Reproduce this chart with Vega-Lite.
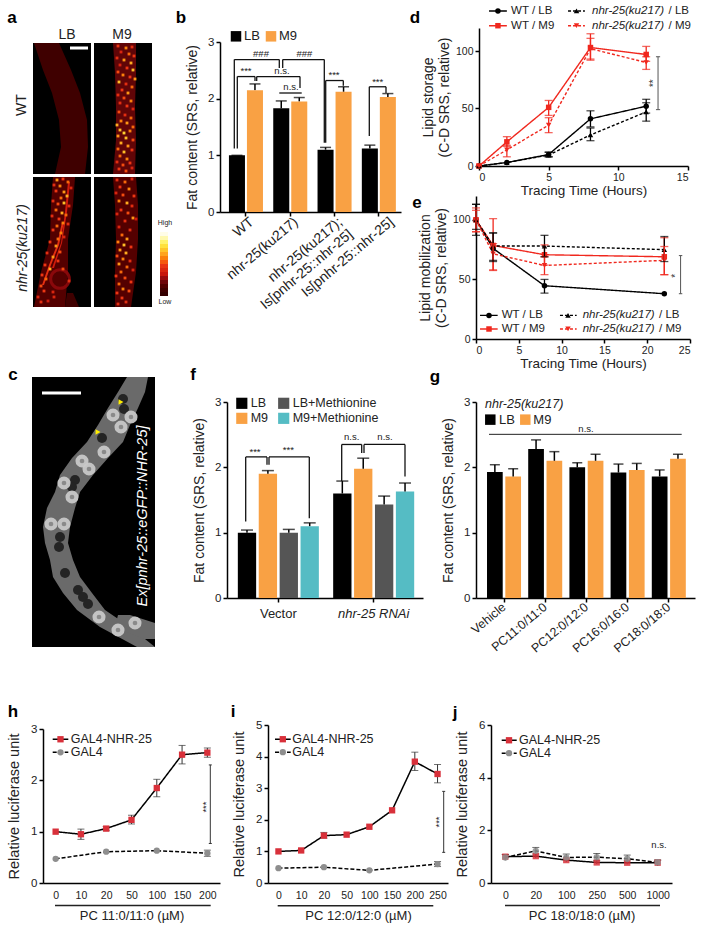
{"$schema":"https://vega.github.io/schema/vega-lite/v6.json","width":704,"height":937,"padding":0,"autosize":{"type":"none"},"background":"white",
"config":{"view":{"stroke":null},"text":{"font":"Liberation Sans","color":"#222"},"axis":{"grid":false,"labelFont":"Liberation Sans","titleFont":"Liberation Sans","titleFontWeight":"normal","domainColor":"#000","domainWidth":1.5,"tickColor":"#000","tickWidth":1.5,"tickSize":4,"labelColor":"#222","titleColor":"#222","labelOverlap":false,"labelBound":false,"labelFontSize":11.5,"titleFontSize":14,"labelPadding":2}},
"resolve":{"scale":{"x":"independent","y":"independent","color":"independent","shape":"independent","strokeDash":"independent","xOffset":"independent"},"axis":{"x":"independent","y":"independent"},"legend":{"color":"independent"}},
"layer":[
{"encoding":{"x":{"field":"x","type":"quantitative","stack":null,"scale":{"domain":[0,119],"range":[33,152]},"axis":null},"y":{"field":"y","type":"quantitative","stack":null,"scale":{"domain":[0,264],"range":[43,307]},"axis":null}},
"layer":[
{"data":{"values":[{"x":0,"x2":58,"y":0,"y2":131},{"x":61,"x2":119,"y":0,"y2":131},{"x":0,"x2":58,"y":134,"y2":264},{"x":61,"x2":119,"y":134,"y2":264}]},"mark":{"type":"rect","fill":"#000"},"encoding":{"x2":{"field":"x2"},"y2":{"field":"y2"}}},
{"data":{"values":[
{"b":"wtlb","h":0.08,"y":0,"x":1,"x2":26},{"b":"wtlb","h":0.08,"y":27,"x":10,"x2":38},{"b":"wtlb","h":0.08,"y":50,"x":19,"x2":47},{"b":"wtlb","h":0.08,"y":77,"x":26,"x2":54},{"b":"wtlb","h":0.08,"y":104,"x":28,"x2":55},{"b":"wtlb","h":0.08,"y":131,"x":22,"x2":52},
{"b":"wtm9","h":0.22,"y":0,"x":80,"x2":103},{"b":"wtm9","h":0.22,"y":30,"x":82,"x2":103},{"b":"wtm9","h":0.22,"y":64,"x":83,"x2":102},{"b":"wtm9","h":0.22,"y":97,"x":83,"x2":103},{"b":"wtm9","h":0.22,"y":131,"x":80,"x2":102},
{"b":"nlb","h":0.18,"y":134,"x":20,"x2":42},{"b":"nlb","h":0.18,"y":162,"x":18,"x2":40},{"b":"nlb","h":0.18,"y":196,"x":17,"x2":35},{"b":"nlb","h":0.18,"y":229,"x":8,"x2":35},{"b":"nlb","h":0.18,"y":264,"x":1,"x2":32},
{"b":"tail","h":0.08,"y":250,"x":34,"x2":40},{"b":"tail","h":0.08,"y":264,"x":32,"x2":46},
{"b":"st1","h":0.55,"y":179,"x":29,"x2":31},{"b":"st1","h":0.55,"y":202,"x":24,"x2":26},{"b":"st1","h":0.55,"y":222,"x":16,"x2":18},{"b":"st1","h":0.55,"y":242,"x":9,"x2":11},
{"b":"st2","h":0.45,"y":139,"x":35,"x2":37},{"b":"st2","h":0.45,"y":169,"x":32,"x2":34},{"b":"st2","h":0.45,"y":200,"x":28,"x2":29},{"b":"st2","h":0.45,"y":225,"x":19,"x2":21},
{"b":"nm9","h":0.18,"y":134,"x":80,"x2":103},{"b":"nm9","h":0.18,"y":162,"x":82,"x2":105},{"b":"nm9","h":0.18,"y":196,"x":83,"x2":105},{"b":"nm9","h":0.18,"y":229,"x":82,"x2":103},{"b":"nm9","h":0.18,"y":264,"x":82,"x2":98}
]},"mark":{"type":"area","orient":"horizontal"},"encoding":{"x2":{"field":"x2"},"detail":{"field":"b","type":"nominal"},"color":{"field":"h","type":"quantitative","scale":{"domain":[0,1.25],"range":["#000000","#5a0505","#c8140c","#f23a14","#ffa51e","#fff04a","#fffde8"]},"legend":null}}},
{"data":{"values":[{"x":127,"x2":135,"y":189,"y2":193,"h":1.25},{"x":127,"x2":135,"y":193,"y2":197,"h":1.17},{"x":127,"x2":135,"y":197,"y2":201,"h":1.08},{"x":127,"x2":135,"y":201,"y2":205,"h":1.0},{"x":127,"x2":135,"y":205,"y2":209,"h":0.92},{"x":127,"x2":135,"y":209,"y2":213,"h":0.83},{"x":127,"x2":135,"y":213,"y2":217,"h":0.75},{"x":127,"x2":135,"y":217,"y2":221,"h":0.67},{"x":127,"x2":135,"y":221,"y2":225,"h":0.58},{"x":127,"x2":135,"y":225,"y2":229,"h":0.5},{"x":127,"x2":135,"y":229,"y2":233,"h":0.42},{"x":127,"x2":135,"y":233,"y2":237,"h":0.33},{"x":127,"x2":135,"y":237,"y2":241,"h":0.25},{"x":127,"x2":135,"y":241,"y2":245,"h":0.17},{"x":127,"x2":135,"y":245,"y2":249,"h":0.08},{"x":127,"x2":135,"y":249,"y2":253,"h":0}]},"mark":{"type":"rect"},"encoding":{"x2":{"field":"x2"},"y2":{"field":"y2"},"color":{"field":"h","type":"quantitative","legend":null}}},
{"data":{"values":[{"x":27,"y":236,"h":0.32}]},"mark":{"type":"point","filled":false,"size":350,"strokeWidth":3,"opacity":0.85},"encoding":{"color":{"field":"h","type":"quantitative","legend":null}}},
{"data":{"values":[{"x":85,"y":3,"h":0.6},{"x":93,"y":5,"h":0.75},{"x":99,"y":4,"h":0.55},{"x":88,"y":9,"h":0.5},{"x":96,"y":11,"h":0.7},{"x":101,"y":13,"h":0.6},{"x":84,"y":15,"h":0.55},{"x":91,"y":17,"h":0.8},{"x":98,"y":20,"h":0.85},{"x":87,"y":22,"h":0.5},{"x":94,"y":25,"h":0.6},{"x":100,"y":27,"h":0.9},{"x":85,"y":29,"h":0.65},{"x":90,"y":32,"h":0.75},{"x":97,"y":34,"h":0.6},{"x":102,"y":36,"h":0.8},{"x":86,"y":39,"h":0.9},{"x":93,"y":41,"h":0.55},{"x":99,"y":44,"h":0.7},{"x":89,"y":47,"h":0.6},{"x":95,"y":50,"h":0.8},{"x":85,"y":52,"h":0.55},{"x":91,"y":55,"h":0.65},{"x":98,"y":58,"h":0.75},{"x":87,"y":60,"h":0.55},{"x":94,"y":63,"h":0.6},{"x":100,"y":66,"h":0.5},{"x":86,"y":69,"h":0.65},{"x":92,"y":72,"h":0.55},{"x":98,"y":75,"h":0.7},{"x":88,"y":78,"h":0.75},{"x":84,"y":82,"h":0.85},{"x":94,"y":80,"h":0.8},{"x":100,"y":84,"h":0.7},{"x":87,"y":87,"h":0.9},{"x":91,"y":90,"h":0.95},{"x":97,"y":88,"h":0.75},{"x":85,"y":93,"h":0.8},{"x":93,"y":95,"h":0.9},{"x":100,"y":97,"h":0.65},{"x":88,"y":100,"h":0.85},{"x":95,"y":103,"h":0.8},{"x":85,"y":106,"h":0.7},{"x":91,"y":109,"h":0.9},{"x":99,"y":107,"h":0.6},{"x":87,"y":113,"h":0.7},{"x":94,"y":116,"h":0.75},{"x":84,"y":119,"h":0.55},{"x":90,"y":122,"h":0.65},{"x":97,"y":120,"h":0.6},{"x":86,"y":126,"h":0.6},{"x":93,"y":128,"h":0.65},{"x":99,"y":125,"h":0.5},
{"x":24,"y":137,"h":0.8},{"x":30,"y":136,"h":0.6},{"x":35,"y":139,"h":0.7},{"x":21,"y":142,"h":0.55},{"x":27,"y":143,"h":0.75},{"x":38,"y":145,"h":0.5},{"x":23,"y":148,"h":0.6},{"x":31,"y":149,"h":0.8},{"x":28,"y":155,"h":0.7},{"x":34,"y":153,"h":0.85},{"x":20,"y":158,"h":0.55},{"x":25,"y":161,"h":0.65},{"x":31,"y":160,"h":0.9},{"x":36,"y":163,"h":0.55},{"x":23,"y":167,"h":0.7},{"x":29,"y":170,"h":0.85},{"x":33,"y":172,"h":0.7},{"x":19,"y":173,"h":0.55},{"x":26,"y":176,"h":0.6},{"x":30,"y":180,"h":0.75},{"x":24,"y":183,"h":0.7},{"x":35,"y":181,"h":0.55},{"x":20,"y":187,"h":0.6},{"x":28,"y":190,"h":0.75},{"x":25,"y":196,"h":0.7},{"x":31,"y":194,"h":0.5},{"x":17,"y":199,"h":0.6},{"x":23,"y":203,"h":0.8},{"x":27,"y":209,"h":0.65},{"x":14,"y":210,"h":0.55},{"x":20,"y":214,"h":0.8},{"x":25,"y":218,"h":0.6},{"x":12,"y":222,"h":0.6},{"x":17,"y":226,"h":0.85},{"x":9,"y":232,"h":0.6},{"x":13,"y":236,"h":0.7},{"x":8,"y":243,"h":0.65},{"x":11,"y":248,"h":0.6},{"x":5,"y":254,"h":0.5},{"x":8,"y":259,"h":0.55},{"x":20,"y":249,"h":0.5},{"x":30,"y":226,"h":0.65},{"x":36,"y":238,"h":0.55},{"x":21,"y":254,"h":0.5},{"x":15,"y":258,"h":0.45},
{"x":84,"y":137,"h":0.55},{"x":92,"y":139,"h":0.7},{"x":99,"y":136,"h":0.5},{"x":87,"y":144,"h":0.6},{"x":96,"y":146,"h":0.75},{"x":83,"y":150,"h":0.5},{"x":90,"y":152,"h":0.65},{"x":101,"y":153,"h":0.6},{"x":86,"y":158,"h":0.75},{"x":94,"y":160,"h":0.85},{"x":99,"y":163,"h":0.55},{"x":88,"y":167,"h":0.6},{"x":84,"y":171,"h":0.5},{"x":95,"y":170,"h":0.65},{"x":100,"y":175,"h":0.8},{"x":92,"y":178,"h":0.55},{"x":103,"y":176,"h":0.45},{"x":86,"y":184,"h":0.5},{"x":97,"y":187,"h":0.55},{"x":89,"y":192,"h":0.7},{"x":94,"y":196,"h":0.8},{"x":85,"y":199,"h":0.75},{"x":91,"y":202,"h":0.9},{"x":98,"y":204,"h":0.6},{"x":87,"y":207,"h":0.8},{"x":93,"y":210,"h":0.85},{"x":84,"y":213,"h":0.65},{"x":90,"y":216,"h":0.75},{"x":97,"y":218,"h":0.55},{"x":86,"y":221,"h":0.8},{"x":94,"y":224,"h":0.7},{"x":100,"y":227,"h":0.5},{"x":88,"y":229,"h":0.7},{"x":83,"y":233,"h":0.6},{"x":92,"y":235,"h":0.65},{"x":98,"y":239,"h":0.6},{"x":86,"y":241,"h":0.7},{"x":90,"y":246,"h":0.75},{"x":96,"y":248,"h":0.65},{"x":84,"y":250,"h":0.6},{"x":89,"y":255,"h":0.6},{"x":93,"y":259,"h":0.55},{"x":85,"y":261,"h":0.55}]},
"mark":{"type":"point","shape":"square","filled":true,"size":8,"opacity":1},"encoding":{"color":{"field":"h","type":"quantitative","legend":null}}},
{"data":{"values":[{"x":37,"x2":55,"y":5,"y2":5}]},"mark":{"type":"rule","stroke":"#fff","strokeWidth":3},"encoding":{"x2":{"field":"x2"},"y2":{"field":"y2"}}},
{"data":{"values":[{"x":34,"y":-8,"t":"LB"},{"x":89,"y":-8,"t":"M9"}]},"mark":{"type":"text","fontSize":14},"encoding":{"text":{"field":"t"}}},
{"data":{"values":[{"x":-11,"y":62,"t":"WT"}]},"mark":{"type":"text","fontSize":14,"angle":270},"encoding":{"text":{"field":"t"}}},
{"data":{"values":[{"x":-10,"y":205,"t":"nhr-25(ku217)"}]},"mark":{"type":"text","fontSize":14,"angle":270,"fontStyle":"italic"},"encoding":{"text":{"field":"t"}}},
{"data":{"values":[{"x":132,"y":180,"t":"High"},{"x":132,"y":259,"t":"Low"}]},"mark":{"type":"text","fontSize":7},"encoding":{"text":{"field":"t"}}},
{"data":{"values":[{"x":-21,"y":-25,"t":"a"}]},"mark":{"type":"text","fontSize":17,"fontWeight":"bold","color":"#000"},"encoding":{"text":{"field":"t"}}}
]},
{"data":{"values":[{"g":"WT","c":"LB","v":1.0,"hi":1.0},{"g":"WT","c":"M9","v":2.15,"hi":2.26},{"g":"nhr-25(ku217)","c":"LB","v":1.83,"hi":1.96},{"g":"nhr-25(ku217)","c":"M9","v":1.95,"hi":2.02},{"g":"nhr-25(ku217);|Is[pnhr-25::nhr-25]","c":"LB","v":1.1,"hi":1.14},{"g":"nhr-25(ku217);|Is[pnhr-25::nhr-25]","c":"M9","v":2.12,"hi":2.21},{"g":"Is[pnhr-25::nhr-25]","c":"LB","v":1.12,"hi":1.18},{"g":"Is[pnhr-25::nhr-25]","c":"M9","v":2.03,"hi":2.09}]},
"encoding":{"x":{"field":"g","type":"nominal","scale":{"type":"band","domain":["WT","nhr-25(ku217)","nhr-25(ku217);|Is[pnhr-25::nhr-25]","Is[pnhr-25::nhr-25]"],"range":[220,401],"paddingInner":0,"paddingOuter":0.043,"align":1},"axis":{"orient":"bottom","offset":-725,"title":null,"labelAngle":-40,"labelAlign":"right","labelBaseline":"middle","labelFontSize":14,"labelPadding":4,"labelOffset":{"condition":{"test":"datum.value==='Is[pnhr-25::nhr-25]'","value":13},"value":6},"labelExpr":"split(replace(datum.label,';',';\u00a0\u00a0\u00a0'),'|')"}},
"xOffset":{"field":"c","type":"nominal","scale":{"domain":["LB","M9"],"paddingInner":0.11,"paddingOuter":0.285}},
"y":{"field":"v","type":"quantitative","stack":null,"title":"Fat content (SRS, relative)","scale":{"domain":[0,3],"range":[212,42]},"axis":{"orient":"left","offset":-220,"values":[0,1,2,3],"format":"d","titlePadding":8}}},
"layer":[{"mark":{"type":"rule","stroke":"#000","strokeWidth":1.5},"encoding":{"y2":{"field":"hi"}}},{"mark":{"type":"tick","orient":"horizontal","size":11,"thickness":1.5,"color":"#000"},"encoding":{"y":{"field":"hi","type":"quantitative","title":"Fat content (SRS, relative)","axis":{"orient":"left","offset":-220,"values":[0,1,2,3],"format":"d","titlePadding":8}}}},{"mark":"bar","encoding":{"color":{"field":"c","type":"nominal","scale":{"domain":["LB","M9"],"range":["#000000","#F9A144"]},"legend":null}}}]},
{"encoding":{"x":{"field":"x","type":"quantitative","scale":{"domain":[0,181],"range":[220,401]},"axis":null},"y":{"field":"y","type":"quantitative","scale":{"domain":[0,3],"range":[212,42]},"axis":null}},
"layer":[
{"data":{"values":[{"x":14.3,"x2":14.3,"y":1.12,"y2":2.69},{"x":14.3,"x2":59.3,"y":2.69,"y2":2.69},{"x":59.3,"x2":59.3,"y":2.69,"y2":2.54},{"x":62.7,"x2":62.7,"y":2.54,"y2":2.69},{"x":62.7,"x2":104.3,"y":2.69,"y2":2.69},{"x":104.3,"x2":104.3,"y":2.69,"y2":1.22},{"x":17.3,"x2":17.3,"y":1.12,"y2":2.39},{"x":17.3,"x2":35,"y":2.39,"y2":2.39},{"x":35,"x2":35,"y":2.39,"y2":2.31},{"x":36.7,"x2":36.7,"y":2.31,"y2":2.39},{"x":36.7,"x2":80,"y":2.39,"y2":2.39},{"x":80,"x2":80,"y":2.39,"y2":2.19},{"x":59.3,"x2":81.7,"y":2.1,"y2":2.1},{"x":105.7,"x2":105.7,"y":1.22,"y2":2.32},{"x":105.7,"x2":123.3,"y":2.32,"y2":2.32},{"x":123.3,"x2":123.3,"y":2.32,"y2":2.23},{"x":149.3,"x2":149.3,"y":1.34,"y2":2.21},{"x":149.3,"x2":166,"y":2.21,"y2":2.21},{"x":166,"x2":166,"y":2.21,"y2":2.1}]},"mark":{"type":"rule","stroke":"#111","strokeWidth":1.3},"encoding":{"x2":{"field":"x2"},"y2":{"field":"y2"}}},
{"data":{"values":[{"x":41,"y":2.78,"t":"###"},{"x":84.3,"y":2.78,"t":"###"},{"x":26,"y":2.49,"t":"***"},{"x":62,"y":2.49,"t":"n.s."},{"x":71,"y":2.2,"t":"n.s."},{"x":114,"y":2.41,"t":"***"},{"x":157.7,"y":2.29,"t":"***"}]},"mark":{"type":"text","fontSize":9.5,"align":"center"},"encoding":{"text":{"field":"t"}}},
{"data":{"values":[{"x":16,"y":3.1,"c":"LB"},{"x":51,"y":3.1,"c":"M9"}]},"mark":{"type":"point","shape":"square","filled":true,"size":110,"opacity":1},"encoding":{"color":{"field":"c","type":"nominal","scale":{"domain":["LB","M9"],"range":["#000000","#F9A144"]},"legend":null}}},
{"data":{"values":[{"x":24,"y":3.1,"t":"LB"},{"x":59,"y":3.1,"t":"M9"}]},"mark":{"type":"text","fontSize":13,"align":"left"},"encoding":{"text":{"field":"t"}}},
{"data":{"values":[{"x":-39,"y":3.42,"t":"b"}]},"mark":{"type":"text","fontSize":17,"fontWeight":"bold","color":"#000"},"encoding":{"text":{"field":"t"}}}
]},
{"data":{"values":[{"s":"WT / LB","t":0,"v":0},{"s":"WT / LB","t":2,"v":3},{"s":"WT / LB","t":5,"v":10,"lo":8,"hi":12},{"s":"WT / LB","t":8,"v":41,"lo":34,"hi":48},{"s":"WT / LB","t":12,"v":52,"lo":46,"hi":58},{"s":"WT / M9","t":0,"v":0},{"s":"WT / M9","t":2,"v":21,"lo":17,"hi":25.5},{"s":"WT / M9","t":5,"v":51,"lo":44,"hi":57},{"s":"WT / M9","t":8,"v":103,"lo":93,"hi":115},{"s":"WT / M9","t":12,"v":97,"lo":91,"hi":104},{"s":"nhr LB","t":0,"v":0},{"s":"nhr LB","t":2,"v":3},{"s":"nhr LB","t":5,"v":9.5,"lo":8,"hi":12},{"s":"nhr LB","t":8,"v":27,"lo":22,"hi":33},{"s":"nhr LB","t":12,"v":47,"lo":39,"hi":55},{"s":"nhr M9","t":0,"v":0},{"s":"nhr M9","t":2,"v":14,"lo":8,"hi":18},{"s":"nhr M9","t":5,"v":35.6,"lo":29,"hi":42},{"s":"nhr M9","t":8,"v":102,"lo":92,"hi":111},{"s":"nhr M9","t":12,"v":90,"lo":84,"hi":95}]},
"encoding":{"x":{"field":"t","type":"quantitative","scale":{"domain":[0,15],"range":[479,688]},"axis":{"orient":"bottom","offset":-771,"values":[0,5,10,15],"title":"Tracing Time (Hours)","labelFontSize":10.5,"titlePadding":1,"titleFontSize":13.5}},"y":{"field":"v","type":"quantitative","scale":{"domain":[0,120],"range":[166,28]},"axis":{"orient":"left","offset":-479,"values":[0,50,100],"title":["Lipid storage","(C-D SRS, relative)"],"labelFontSize":10.5,"titlePadding":4}},"color":{"field":"s","type":"nominal","scale":{"domain":["WT / LB","WT / M9","nhr LB","nhr M9"],"range":["#000000","#F0281E","#000000","#F0281E"]},"legend":null}},
"layer":[{"mark":{"type":"line","strokeWidth":1.4},"encoding":{"strokeDash":{"field":"s","type":"nominal","scale":{"domain":["WT / LB","WT / M9","nhr LB","nhr M9"],"range":[[1,0],[1,0],[3,2],[3,2]]},"legend":null}}},
{"mark":{"type":"point","filled":true,"size":30,"opacity":1},"encoding":{"shape":{"field":"s","type":"nominal","scale":{"domain":["WT / LB","WT / M9","nhr LB","nhr M9"],"range":["circle","square","triangle-up","triangle-down"]},"legend":null}}},
{"transform":[{"filter":"isValid(datum.hi)"}],"mark":{"type":"rule","strokeWidth":1.3},"encoding":{"y":{"field":"lo","type":"quantitative"},"y2":{"field":"hi"}}},{"transform":[{"filter":"isValid(datum.hi)"}],"mark":{"type":"tick","orient":"horizontal","size":8,"thickness":1.3},"encoding":{"y":{"field":"hi","type":"quantitative"}}},{"transform":[{"filter":"isValid(datum.hi)"}],"mark":{"type":"tick","orient":"horizontal","size":8,"thickness":1.3},"encoding":{"y":{"field":"lo","type":"quantitative"}}}]},
{"encoding":{"x":{"field":"x","type":"quantitative","scale":{"domain":[0,15],"range":[479,688]},"axis":null},"y":{"field":"y","type":"quantitative","scale":{"domain":[0,120],"range":[166,28]},"axis":null},"color":{"field":"s","type":"nominal","scale":{"domain":["WT / LB","WT / M9","nhr LB","nhr M9"],"range":["#000000","#F0281E","#000000","#F0281E"]},"legend":null}},
"layer":[
{"data":{"values":[{"s":"WT / LB","x":0.72,"x2":2,"y":134.8},{"s":"WT / M9","x":0.72,"x2":2,"y":122},{"s":"nhr LB","x":6.39,"x2":7.6,"y":134.8},{"s":"nhr M9","x":6.39,"x2":7.6,"y":122}]},"mark":{"type":"rule","strokeWidth":1.4},"encoding":{"x2":{"field":"x2"},"strokeDash":{"field":"s","type":"nominal","scale":{"domain":["WT / LB","WT / M9","nhr LB","nhr M9"],"range":[[1,0],[1,0],[3,2],[3,2]]},"legend":null}}},
{"data":{"values":[{"s":"WT / LB","x":1.36,"y":134.8},{"s":"WT / M9","x":1.36,"y":122},{"s":"nhr LB","x":7,"y":134.8},{"s":"nhr M9","x":7,"y":122}]},"mark":{"type":"point","filled":true,"size":30,"opacity":1},"encoding":{"shape":{"field":"s","type":"nominal","scale":{"domain":["WT / LB","WT / M9","nhr LB","nhr M9"],"range":["circle","square","triangle-up","triangle-down"]},"legend":null}}},
{"data":{"values":[{"x":2.3,"y":134.8,"t":"WT / LB"},{"x":2.3,"y":122,"t":"WT / M9"},{"x":13.6,"y":134.8,"t":"/ LB"},{"x":13.6,"y":122,"t":"/ M9"}]},"mark":{"type":"text","fontSize":11.5,"align":"left"},"encoding":{"color":{"value":"#222"},"text":{"field":"t"}}},
{"data":{"values":[{"x":8.11,"y":134.8,"t":"nhr-25(ku217)"},{"x":8.11,"y":122,"t":"nhr-25(ku217)"}]},"mark":{"type":"text","fontSize":11.5,"align":"left","fontStyle":"italic"},"encoding":{"color":{"value":"#222"},"text":{"field":"t"}}},
{"data":{"values":[{"x":12.85,"x2":12.85,"y":49,"y2":95},{"x":12.7,"x2":13,"y":95,"y2":95},{"x":12.7,"x2":13,"y":49,"y2":49}]},"mark":{"type":"rule","strokeWidth":1},"encoding":{"color":{"value":"#555"},"x2":{"field":"x2"},"y2":{"field":"y2"}}},
{"data":{"values":[{"x":12.55,"y":72,"t":"**"}]},"mark":{"type":"text","fontSize":10,"angle":270},"encoding":{"color":{"value":"#333"},"text":{"field":"t"}}},
{"data":{"values":[{"x":-4.6,"y":128.7,"t":"d"}]},"mark":{"type":"text","fontSize":17,"fontWeight":"bold"},"encoding":{"color":{"value":"#000"},"text":{"field":"t"}}}
]},
{"data":{"values":[{"s":"WT / LB","t":0,"v":100,"lo":92,"hi":113},{"s":"WT / LB","t":2,"v":76,"lo":66,"hi":89},{"s":"WT / LB","t":8,"v":44.7,"lo":38.5,"hi":50},{"s":"WT / LB","t":22,"v":38},{"s":"WT / M9","t":0,"v":100,"lo":90,"hi":110},{"s":"WT / M9","t":2,"v":78.5,"lo":58,"hi":101},{"s":"WT / M9","t":8,"v":70.7,"lo":62,"hi":79},{"s":"WT / M9","t":22,"v":69,"lo":54,"hi":85},{"s":"nhr LB","t":0,"v":100,"lo":87,"hi":113},{"s":"nhr LB","t":2,"v":78,"lo":65,"hi":89},{"s":"nhr LB","t":8,"v":78,"lo":69,"hi":87},{"s":"nhr LB","t":22,"v":75,"lo":65,"hi":86},{"s":"nhr M9","t":0,"v":100,"lo":90,"hi":108},{"s":"nhr M9","t":2,"v":71.5,"lo":57.5,"hi":80},{"s":"nhr M9","t":8,"v":61.7,"lo":54,"hi":69},{"s":"nhr M9","t":22,"v":66,"lo":54,"hi":77.6}]},
"encoding":{"x":{"field":"t","type":"quantitative","scale":{"domain":[0,25],"range":[476,690]},"axis":{"orient":"bottom","offset":-598,"values":[0,5,10,15,20,25],"title":"Tracing Time (Hours)","labelFontSize":10.5,"titlePadding":1,"titleFontSize":13.5}},"y":{"field":"v","type":"quantitative","scale":{"domain":[0,120],"range":[339,196]},"axis":{"orient":"left","offset":-476,"values":[0,50,100],"title":["Lipid mobilization","(C-D SRS, relative)"],"labelFontSize":10.5,"titlePadding":4}},"color":{"field":"s","type":"nominal","scale":{"domain":["WT / LB","WT / M9","nhr LB","nhr M9"],"range":["#000000","#F0281E","#000000","#F0281E"]},"legend":null}},
"layer":[{"mark":{"type":"line","strokeWidth":1.4},"encoding":{"strokeDash":{"field":"s","type":"nominal","scale":{"domain":["WT / LB","WT / M9","nhr LB","nhr M9"],"range":[[1,0],[1,0],[3,2],[3,2]]},"legend":null}}},
{"mark":{"type":"point","filled":true,"size":30,"opacity":1},"encoding":{"shape":{"field":"s","type":"nominal","scale":{"domain":["WT / LB","WT / M9","nhr LB","nhr M9"],"range":["circle","square","triangle-up","triangle-down"]},"legend":null}}},
{"transform":[{"filter":"isValid(datum.hi)"}],"mark":{"type":"rule","strokeWidth":1.3},"encoding":{"y":{"field":"lo","type":"quantitative"},"y2":{"field":"hi"}}},{"transform":[{"filter":"isValid(datum.hi)"}],"mark":{"type":"tick","orient":"horizontal","size":8,"thickness":1.3},"encoding":{"y":{"field":"hi","type":"quantitative"}}},{"transform":[{"filter":"isValid(datum.hi)"}],"mark":{"type":"tick","orient":"horizontal","size":8,"thickness":1.3},"encoding":{"y":{"field":"lo","type":"quantitative"}}}]},
{"encoding":{"x":{"field":"x","type":"quantitative","scale":{"domain":[0,25],"range":[476,690]},"axis":null},"y":{"field":"y","type":"quantitative","scale":{"domain":[0,120],"range":[339,196]},"axis":null},"color":{"field":"s","type":"nominal","scale":{"domain":["WT / LB","WT / M9","nhr LB","nhr M9"],"range":["#000000","#F0281E","#000000","#F0281E"]},"legend":null}},
"layer":[
{"data":{"values":[{"s":"WT / LB","x":0.47,"x2":2.53,"y":19.8},{"s":"WT / M9","x":0.47,"x2":2.53,"y":8.4},{"s":"nhr LB","x":9.81,"x2":11.76,"y":19.8},{"s":"nhr M9","x":9.81,"x2":11.76,"y":8.4}]},"mark":{"type":"rule","strokeWidth":1.4},"encoding":{"x2":{"field":"x2"},"strokeDash":{"field":"s","type":"nominal","scale":{"domain":["WT / LB","WT / M9","nhr LB","nhr M9"],"range":[[1,0],[1,0],[3,2],[3,2]]},"legend":null}}},
{"data":{"values":[{"s":"WT / LB","x":1.52,"y":19.8},{"s":"WT / M9","x":1.52,"y":8.4},{"s":"nhr LB","x":10.75,"y":19.8},{"s":"nhr M9","x":10.75,"y":8.4}]},"mark":{"type":"point","filled":true,"size":30,"opacity":1},"encoding":{"shape":{"field":"s","type":"nominal","scale":{"domain":["WT / LB","WT / M9","nhr LB","nhr M9"],"range":["circle","square","triangle-up","triangle-down"]},"legend":null}}},
{"data":{"values":[{"x":3,"y":19.8,"t":"WT / LB"},{"x":3,"y":8.4,"t":"WT / M9"},{"x":21.38,"y":19.8,"t":"/ LB"},{"x":21.38,"y":8.4,"t":"/ M9"}]},"mark":{"type":"text","fontSize":11.5,"align":"left"},"encoding":{"color":{"value":"#222"},"text":{"field":"t"}}},
{"data":{"values":[{"x":12.46,"y":19.8,"t":"nhr-25(ku217)"},{"x":12.46,"y":8.4,"t":"nhr-25(ku217)"}]},"mark":{"type":"text","fontSize":11.5,"align":"left","fontStyle":"italic"},"encoding":{"color":{"value":"#222"},"text":{"field":"t"}}},
{"data":{"values":[{"x":23.9,"x2":23.9,"y":38,"y2":70},{"x":23.7,"x2":24.1,"y":70,"y2":70},{"x":23.7,"x2":24.1,"y":38,"y2":38}]},"mark":{"type":"rule","strokeWidth":1},"encoding":{"color":{"value":"#555"},"x2":{"field":"x2"},"y2":{"field":"y2"}}},
{"data":{"values":[{"x":23.4,"y":53,"t":"*"}]},"mark":{"type":"text","fontSize":10,"angle":270},"encoding":{"color":{"value":"#333"},"text":{"field":"t"}}},
{"data":{"values":[{"x":-6.9,"y":114,"t":"e"}]},"mark":{"type":"text","fontSize":17,"fontWeight":"bold"},"encoding":{"color":{"value":"#000"},"text":{"field":"t"}}}
]},
{"encoding":{"x":{"field":"x","type":"quantitative","stack":null,"scale":{"domain":[0,123],"range":[32,155]},"axis":null},"y":{"field":"y","type":"quantitative","stack":null,"scale":{"domain":[0,270],"range":[377,647]},"axis":null}},
"layer":[
{"data":{"values":[{"x":0,"x2":123,"y":0,"y2":270}]},"mark":{"type":"rect","fill":"#000"},"encoding":{"x2":{"field":"x2"},"y2":{"field":"y2"}}},
{"data":{"values":[{"b":"w","y":0,"x":95,"x2":116},{"b":"w","y":15,"x":86,"x2":113},{"b":"w","y":31,"x":76,"x2":106},{"b":"w","y":48,"x":66,"x2":98},{"b":"w","y":65,"x":55,"x2":91},{"b":"w","y":81,"x":40,"x2":76},{"b":"w","y":98,"x":28,"x2":61},{"b":"w","y":115,"x":23,"x2":48},{"b":"w","y":131,"x":15,"x2":43},{"b":"w","y":150,"x":11,"x2":38},{"b":"w","y":166,"x":13,"x2":36},{"b":"w","y":183,"x":18,"x2":41},{"b":"w","y":200,"x":21,"x2":48},{"b":"w","y":216,"x":31,"x2":60},{"b":"w","y":233,"x":45,"x2":73},{"b":"w","y":250,"x":68,"x2":98},{"b":"w","y":270,"x":105,"x2":123},{"b":"t","y":238,"x":86,"x2":98},{"b":"t","y":246,"x":84,"x2":123},{"b":"t","y":254,"x":92,"x2":123},{"b":"t","y":262,"x":112,"x2":123}]},"mark":{"type":"area","orient":"horizontal","color":"#6a6a6a"},"encoding":{"x2":{"field":"x2"},"detail":{"field":"b","type":"nominal"}}},
{"data":{"values":[{"x":91,"y":22},{"x":92,"y":32},{"x":70,"y":61},{"x":43,"y":103},{"x":40,"y":110},{"x":28,"y":160},{"x":27,"y":170},{"x":33,"y":196},{"x":46,"y":213},{"x":51,"y":220},{"x":56,"y":227}]},"mark":{"type":"point","shape":"circle","filled":true,"size":100,"color":"#242424","opacity":1}},
{"data":{"values":[{"x":81,"y":38},{"x":89,"y":50},{"x":99,"y":40},{"x":72,"y":75},{"x":50,"y":84},{"x":57,"y":92},{"x":32,"y":106},{"x":40,"y":120},{"x":19,"y":147},{"x":32,"y":147},{"x":67,"y":240},{"x":103,"y":246},{"x":86,"y":253}]},"mark":{"type":"point","shape":"circle","filled":true,"size":170,"color":"#c8c8c8","opacity":0.95}},
{"data":{"values":[{"x":81,"y":38},{"x":89,"y":50},{"x":99,"y":40},{"x":72,"y":75},{"x":50,"y":84},{"x":57,"y":92},{"x":32,"y":106},{"x":40,"y":120},{"x":19,"y":147},{"x":32,"y":147},{"x":67,"y":240},{"x":103,"y":246},{"x":86,"y":253}]},"mark":{"type":"point","shape":"circle","filled":true,"size":22,"color":"#8a8a8a","opacity":1}},
{"data":{"values":[{"x":89,"y":25},{"x":66,"y":55}]},"mark":{"type":"point","shape":"triangle-right","filled":true,"size":32,"color":"#ffee00","opacity":1}},
{"data":{"values":[{"x":10,"x2":49,"y":16,"y2":16}]},"mark":{"type":"rule","stroke":"#fff","strokeWidth":3},"encoding":{"x2":{"field":"x2"},"y2":{"field":"y2"}}},
{"data":{"values":[{"x":111,"y":139,"t":"Ex[pnhr-25::eGFP::NHR-25]"}]},"mark":{"type":"text","fontSize":14.5,"angle":270,"fontStyle":"italic","color":"#fff"},"encoding":{"text":{"field":"t"}}},
{"data":{"values":[{"x":-19,"y":-2,"t":"c"}]},"mark":{"type":"text","fontSize":17,"fontWeight":"bold","color":"#000"},"encoding":{"text":{"field":"t"}}}
]},
{"data":{"values":[{"g":"Vector","c":"LB","v":1.0,"hi":1.04},{"g":"Vector","c":"M9","v":1.9,"hi":1.95},{"g":"Vector","c":"LB+Methionine","v":1.0,"hi":1.05},{"g":"Vector","c":"M9+Methionine","v":1.1,"hi":1.15},{"g":"nhr-25 RNAi","c":"LB","v":1.6,"hi":1.79},{"g":"nhr-25 RNAi","c":"M9","v":1.98,"hi":2.14},{"g":"nhr-25 RNAi","c":"LB+Methionine","v":1.43,"hi":1.56},{"g":"nhr-25 RNAi","c":"M9+Methionine","v":1.63,"hi":1.76}]},
"encoding":{"x":{"field":"g","type":"nominal","scale":{"type":"band","domain":["Vector","nhr-25 RNAi"],"range":[227,423],"paddingInner":0,"paddingOuter":0.028,"align":0.69},"axis":{"orient":"bottom","offset":-339,"title":null,"labelAngle":0,"labelFontSize":13,"labelPadding":5,"labelFontStyle":{"condition":{"test":"datum.value==='Vector'","value":"normal"},"value":"italic"}}},
"xOffset":{"field":"c","type":"nominal","scale":{"domain":["LB","M9","LB+Methionine","M9+Methionine"],"paddingInner":0.124,"paddingOuter":0.342}},
"y":{"field":"v","type":"quantitative","stack":null,"scale":{"domain":[0,3],"range":[598,402]},"axis":{"orient":"left","offset":-227,"values":[0,1,2,3],"format":"d","title":"Fat content (SRS, relative)","titlePadding":8}}},
"layer":[{"mark":"bar","encoding":{"color":{"field":"c","type":"nominal","scale":{"domain":["LB","M9","LB+Methionine","M9+Methionine"],"range":["#000000","#F9A144","#555555","#55BCC4"]},"legend":null}}},{"mark":{"type":"rule","stroke":"#000","strokeWidth":1.5},"encoding":{"y2":{"field":"hi"}}},{"mark":{"type":"tick","orient":"horizontal","size":12,"thickness":1.5,"color":"#000"},"encoding":{"y":{"field":"hi","type":"quantitative"}}}]},
{"encoding":{"x":{"field":"x","type":"quantitative","scale":{"domain":[0,196],"range":[227,423]},"axis":null},"y":{"field":"y","type":"quantitative","scale":{"domain":[0,3],"range":[598,402]},"axis":null}},
"layer":[
{"data":{"values":[{"x":18.7,"x2":18.7,"y":1.17,"y2":2.16},{"x":18.7,"x2":40,"y":2.16,"y2":2.16},{"x":40,"x2":40,"y":2.16,"y2":2.04},{"x":42,"x2":42,"y":2.04,"y2":2.16},{"x":42,"x2":82.3,"y":2.16,"y2":2.16},{"x":82.3,"x2":82.3,"y":2.16,"y2":1.22},{"x":114.7,"x2":114.7,"y":1.79,"y2":2.35},{"x":114.7,"x2":134.7,"y":2.35,"y2":2.35},{"x":134.7,"x2":134.7,"y":2.35,"y2":2.22},{"x":137,"x2":137,"y":2.22,"y2":2.35},{"x":137,"x2":178,"y":2.35,"y2":2.35},{"x":178,"x2":178,"y":2.35,"y2":1.86}]},"mark":{"type":"rule","stroke":"#111","strokeWidth":1.3},"encoding":{"x2":{"field":"x2"},"y2":{"field":"y2"}}},
{"data":{"values":[{"x":28,"y":2.24,"t":"***"},{"x":61.3,"y":2.26,"t":"***"},{"x":124.7,"y":2.46,"t":"n.s."},{"x":158,"y":2.46,"t":"n.s."}]},"mark":{"type":"text","fontSize":9.5,"align":"center"},"encoding":{"text":{"field":"t"}}},
{"data":{"values":[{"x":14.8,"y":2.98,"c":"LB"},{"x":14.8,"y":2.75,"c":"M9"},{"x":56.7,"y":2.98,"c":"LB+Methionine"},{"x":56.7,"y":2.75,"c":"M9+Methionine"}]},"mark":{"type":"point","shape":"square","filled":true,"size":125,"opacity":1},"encoding":{"color":{"field":"c","type":"nominal","scale":{"domain":["LB","M9","LB+Methionine","M9+Methionine"],"range":["#000000","#F9A144","#555555","#55BCC4"]},"legend":null}}},
{"data":{"values":[{"x":23.7,"y":2.98,"t":"LB"},{"x":23.7,"y":2.75,"t":"M9"},{"x":65.7,"y":2.98,"t":"LB+Methionine"},{"x":65.7,"y":2.75,"t":"M9+Methionine"}]},"mark":{"type":"text","fontSize":12.5,"align":"left"},"encoding":{"text":{"field":"t"}}},
{"data":{"values":[{"x":-34,"y":3.41,"t":"f"}]},"mark":{"type":"text","fontSize":17,"fontWeight":"bold","color":"#000"},"encoding":{"text":{"field":"t"}}}
]},
{"data":{"values":[{"g":"Vehicle","c":"LB","v":1.93,"hi":2.04},{"g":"Vehicle","c":"M9","v":1.86,"hi":1.98},{"g":"PC11:0/11:0","c":"LB","v":2.28,"hi":2.42},{"g":"PC11:0/11:0","c":"M9","v":2.1,"hi":2.24},{"g":"PC12:0/12:0","c":"LB","v":2.0,"hi":2.07},{"g":"PC12:0/12:0","c":"M9","v":2.1,"hi":2.2},{"g":"PC16:0/16:0","c":"LB","v":1.92,"hi":2.05},{"g":"PC16:0/16:0","c":"M9","v":1.96,"hi":2.06},{"g":"PC18:0/18:0","c":"LB","v":1.86,"hi":1.96},{"g":"PC18:0/18:0","c":"M9","v":2.13,"hi":2.2}]},
"encoding":{"x":{"field":"g","type":"nominal","scale":{"type":"band","domain":["Vehicle","PC11:0/11:0","PC12:0/12:0","PC16:0/16:0","PC18:0/18:0"],"range":[476,695],"paddingInner":0,"paddingOuter":0.158,"align":0.57},"axis":{"orient":"bottom","offset":-339,"title":null,"labelAngle":-40,"labelAlign":"right","labelBaseline":"middle","labelFontSize":12.5,"labelPadding":3}},
"xOffset":{"field":"c","type":"nominal","scale":{"domain":["LB","M9"],"paddingInner":0.142,"paddingOuter":0.196}},
"y":{"field":"v","type":"quantitative","stack":null,"scale":{"domain":[0,3],"range":[598,402]},"axis":{"orient":"left","offset":-476,"values":[0,1,2,3],"format":"d","title":"Fat content (SRS, relative)","titlePadding":8}}},
"layer":[{"mark":"bar","encoding":{"color":{"field":"c","type":"nominal","scale":{"domain":["LB","M9"],"range":["#000000","#F9A144"]},"legend":null}}},{"mark":{"type":"rule","stroke":"#000","strokeWidth":1.5},"encoding":{"y2":{"field":"hi"}}},{"mark":{"type":"tick","orient":"horizontal","size":10,"thickness":1.5,"color":"#000"},"encoding":{"y":{"field":"hi","type":"quantitative"}}}]},
{"encoding":{"x":{"field":"x","type":"quantitative","scale":{"domain":[0,219],"range":[476,695]},"axis":null},"y":{"field":"y","type":"quantitative","scale":{"domain":[0,3],"range":[598,402]},"axis":null}},
"layer":[
{"data":{"values":[{"x":13,"x2":205.7,"y":2.505,"y2":2.505}]},"mark":{"type":"rule","stroke":"#222","strokeWidth":1},"encoding":{"x2":{"field":"x2"},"y2":{"field":"y2"}}},
{"data":{"values":[{"x":110,"y":2.59,"t":"n.s."}]},"mark":{"type":"text","fontSize":9.5,"align":"center"},"encoding":{"text":{"field":"t"}}},
{"data":{"values":[{"x":9,"y":2.97,"t":"nhr-25(ku217)"}]},"mark":{"type":"text","fontSize":12.5,"align":"left","fontStyle":"italic"},"encoding":{"text":{"field":"t"}}},
{"data":{"values":[{"x":14.3,"y":2.73,"c":"LB"},{"x":49.3,"y":2.73,"c":"M9"}]},"mark":{"type":"point","shape":"square","filled":true,"size":110,"opacity":1},"encoding":{"color":{"field":"c","type":"nominal","scale":{"domain":["LB","M9"],"range":["#000000","#F9A144"]},"legend":null}}},
{"data":{"values":[{"x":23,"y":2.73,"t":"LB"},{"x":57.3,"y":2.73,"t":"M9"}]},"mark":{"type":"text","fontSize":13,"align":"left"},"encoding":{"text":{"field":"t"}}},
{"data":{"values":[{"x":-41,"y":3.38,"t":"g"}]},"mark":{"type":"text","fontSize":17,"fontWeight":"bold","color":"#000"},"encoding":{"text":{"field":"t"}}}
]},
{"data":{"values":[{"s":"GAL4-NHR-25","d":"0","v":1.0},{"s":"GAL4-NHR-25","d":"10","v":0.95,"lo":0.85,"hi":1.05},{"s":"GAL4-NHR-25","d":"20","v":1.06,"lo":1.02,"hi":1.1},{"s":"GAL4-NHR-25","d":"50","v":1.23,"lo":1.15,"hi":1.32},{"s":"GAL4-NHR-25","d":"100","v":1.85,"lo":1.68,"hi":2.02},{"s":"GAL4-NHR-25","d":"150","v":2.5,"lo":2.32,"hi":2.68},{"s":"GAL4-NHR-25","d":"200","v":2.54,"lo":2.45,"hi":2.63},{"s":"GAL4","d":"0","v":0.47},{"s":"GAL4","d":"20","v":0.61},{"s":"GAL4","d":"100","v":0.63},{"s":"GAL4","d":"200","v":0.58,"lo":0.52,"hi":0.64}]},
"encoding":{"x":{"field":"d","type":"nominal","scale":{"type":"point","domain":["0","10","20","50","100","150","200"],"range":[43,220],"padding":0.5},"axis":{"orient":"bottom","offset":-54,"title":"PC 11:0/11:0 (µM)","labelAngle":0,"labelFontSize":10.5,"tickSize":0,"labelPadding":7,"titleFontSize":13,"titlePadding":9}},"y":{"field":"v","type":"quantitative","scale":{"domain":[0,3],"range":[883,729]},"axis":{"orient":"left","offset":-43,"values":[0,1,2,3],"format":"d","title":"Relative luciferase unit","titleFontSize":14.5,"titlePadding":9}}},
"layer":[{"mark":{"type":"line","strokeWidth":1.5,"color":"#000"},"encoding":{"strokeDash":{"field":"s","type":"nominal","scale":{"domain":["GAL4-NHR-25","GAL4"],"range":[[1,0],[4,2]]},"legend":null}}},
{"transform":[{"filter":"isValid(datum.hi)"}],"mark":{"type":"rule","strokeWidth":1,"color":"#333"},"encoding":{"y":{"field":"lo","type":"quantitative"},"y2":{"field":"hi"}}},{"transform":[{"filter":"isValid(datum.hi)"}],"mark":{"type":"tick","orient":"horizontal","size":7,"thickness":1,"color":"#333"},"encoding":{"y":{"field":"hi","type":"quantitative"}}},{"transform":[{"filter":"isValid(datum.hi)"}],"mark":{"type":"tick","orient":"horizontal","size":7,"thickness":1,"color":"#333"},"encoding":{"y":{"field":"lo","type":"quantitative"}}},
{"mark":{"type":"point","filled":true,"size":40,"opacity":1},"encoding":{"shape":{"field":"s","type":"nominal","scale":{"domain":["GAL4-NHR-25","GAL4"],"range":["square","circle"]},"legend":null},"color":{"field":"s","type":"nominal","scale":{"domain":["GAL4-NHR-25","GAL4"],"range":["#D8303A","#8E8E8E"]},"legend":null}}}]},
{"encoding":{"x":{"field":"x","type":"quantitative","scale":{"domain":[0,177],"range":[43,220]},"axis":null},"y":{"field":"y","type":"quantitative","scale":{"domain":[0,3],"range":[883,729]},"axis":null}},
"layer":[
{"data":{"values":[{"x":12,"x2":167.7,"y":-0.44,"y2":-0.44}]},"mark":{"type":"rule","stroke":"#222","strokeWidth":1.5},"encoding":{"x2":{"field":"x2"},"y2":{"field":"y2"}}},
{"data":{"values":[{"x":167.3,"x2":167.3,"y":0.77,"y2":2.3},{"x":165.8,"x2":168.8,"y":2.3,"y2":2.3},{"x":165.8,"x2":168.8,"y":0.77,"y2":0.77}]},"mark":{"type":"rule","stroke":"#333","strokeWidth":1},"encoding":{"x2":{"field":"x2"},"y2":{"field":"y2"}}},
{"data":{"values":[{"x":163,"y":1.48,"t":"***"}]},"mark":{"type":"text","fontSize":9.5,"angle":270},"encoding":{"text":{"field":"t"}}},
{"data":{"values":[{"x":9.7,"x2":25.3,"y":2.8,"s":"GAL4-NHR-25"},{"x":9.7,"x2":25.3,"y":2.546,"s":"GAL4"}]},"mark":{"type":"rule","strokeWidth":1.5,"color":"#000"},"encoding":{"x2":{"field":"x2"},"strokeDash":{"field":"s","type":"nominal","scale":{"domain":["GAL4-NHR-25","GAL4"],"range":[[1,0],[4,2]]},"legend":null}}},
{"data":{"values":[{"x":17.5,"y":2.8,"s":"GAL4-NHR-25"},{"x":17.5,"y":2.546,"s":"GAL4"}]},"mark":{"type":"point","filled":true,"size":40,"opacity":1},"encoding":{"shape":{"field":"s","type":"nominal","scale":{"domain":["GAL4-NHR-25","GAL4"],"range":["square","circle"]},"legend":null},"color":{"field":"s","type":"nominal","scale":{"domain":["GAL4-NHR-25","GAL4"],"range":["#D8303A","#8E8E8E"]},"legend":null}}},
{"data":{"values":[{"x":27.7,"y":2.8,"t":"GAL4-NHR-25"},{"x":27.7,"y":2.546,"t":"GAL4"}]},"mark":{"type":"text","fontSize":12.5,"align":"left"},"encoding":{"text":{"field":"t"}}},
{"data":{"values":[{"x":-30,"y":3.33,"t":"h"}]},"mark":{"type":"text","fontSize":17,"fontWeight":"bold","color":"#000"},"encoding":{"text":{"field":"t"}}}
]},
{"data":{"values":[{"s":"GAL4-NHR-25","d":"0","v":1.0},{"s":"GAL4-NHR-25","d":"10","v":1.03},{"s":"GAL4-NHR-25","d":"20","v":1.5,"lo":1.42,"hi":1.6},{"s":"GAL4-NHR-25","d":"50","v":1.53},{"s":"GAL4-NHR-25","d":"100","v":1.78},{"s":"GAL4-NHR-25","d":"150","v":2.3},{"s":"GAL4-NHR-25","d":"200","v":3.84,"lo":3.56,"hi":4.14},{"s":"GAL4-NHR-25","d":"250","v":3.45,"lo":3.17,"hi":3.75},{"s":"GAL4","d":"0","v":0.47},{"s":"GAL4","d":"20","v":0.5},{"s":"GAL4","d":"100","v":0.4},{"s":"GAL4","d":"250","v":0.6,"lo":0.52,"hi":0.68}]},
"encoding":{"x":{"field":"d","type":"nominal","scale":{"type":"point","domain":["0","10","20","50","100","150","200","250"],"range":[268,448],"padding":0.46},"axis":{"orient":"bottom","offset":-54,"title":"PC 12:0/12:0 (µM)","labelAngle":0,"labelFontSize":10.5,"tickSize":0,"labelPadding":7,"titleFontSize":13,"titlePadding":9}},"y":{"field":"v","type":"quantitative","scale":{"domain":[0,5],"range":[883,725]},"axis":{"orient":"left","offset":-268,"values":[0,1,2,3,4,5],"format":"d","title":"Relative luciferase unit","titleFontSize":14.5,"titlePadding":9}}},
"layer":[{"mark":{"type":"line","strokeWidth":1.5,"color":"#000"},"encoding":{"strokeDash":{"field":"s","type":"nominal","scale":{"domain":["GAL4-NHR-25","GAL4"],"range":[[1,0],[4,2]]},"legend":null}}},
{"transform":[{"filter":"isValid(datum.hi)"}],"mark":{"type":"rule","strokeWidth":1,"color":"#333"},"encoding":{"y":{"field":"lo","type":"quantitative"},"y2":{"field":"hi"}}},{"transform":[{"filter":"isValid(datum.hi)"}],"mark":{"type":"tick","orient":"horizontal","size":7,"thickness":1,"color":"#333"},"encoding":{"y":{"field":"hi","type":"quantitative"}}},{"transform":[{"filter":"isValid(datum.hi)"}],"mark":{"type":"tick","orient":"horizontal","size":7,"thickness":1,"color":"#333"},"encoding":{"y":{"field":"lo","type":"quantitative"}}},
{"mark":{"type":"point","filled":true,"size":40,"opacity":1},"encoding":{"shape":{"field":"s","type":"nominal","scale":{"domain":["GAL4-NHR-25","GAL4"],"range":["square","circle"]},"legend":null},"color":{"field":"s","type":"nominal","scale":{"domain":["GAL4-NHR-25","GAL4"],"range":["#D8303A","#8E8E8E"]},"legend":null}}}]},
{"encoding":{"x":{"field":"x","type":"quantitative","scale":{"domain":[0,180],"range":[268,448]},"axis":null},"y":{"field":"y","type":"quantitative","scale":{"domain":[0,5],"range":[883,725]},"axis":null}},
"layer":[
{"data":{"values":[{"x":9.7,"x2":165.3,"y":-0.72,"y2":-0.72}]},"mark":{"type":"rule","stroke":"#222","strokeWidth":1.5},"encoding":{"x2":{"field":"x2"},"y2":{"field":"y2"}}},
{"data":{"values":[{"x":175.7,"x2":175.7,"y":0.97,"y2":2.9},{"x":174.2,"x2":177.2,"y":2.9,"y2":2.9},{"x":174.2,"x2":177.2,"y":0.97,"y2":0.97}]},"mark":{"type":"rule","stroke":"#333","strokeWidth":1},"encoding":{"x2":{"field":"x2"},"y2":{"field":"y2"}}},
{"data":{"values":[{"x":171.3,"y":1.93,"t":"***"}]},"mark":{"type":"text","fontSize":9.5,"angle":270},"encoding":{"text":{"field":"t"}}},
{"data":{"values":[{"x":7,"x2":22.7,"y":4.55,"s":"GAL4-NHR-25"},{"x":7,"x2":22.7,"y":4.14,"s":"GAL4"}]},"mark":{"type":"rule","strokeWidth":1.5,"color":"#000"},"encoding":{"x2":{"field":"x2"},"strokeDash":{"field":"s","type":"nominal","scale":{"domain":["GAL4-NHR-25","GAL4"],"range":[[1,0],[4,2]]},"legend":null}}},
{"data":{"values":[{"x":14.8,"y":4.55,"s":"GAL4-NHR-25"},{"x":14.8,"y":4.14,"s":"GAL4"}]},"mark":{"type":"point","filled":true,"size":40,"opacity":1},"encoding":{"shape":{"field":"s","type":"nominal","scale":{"domain":["GAL4-NHR-25","GAL4"],"range":["square","circle"]},"legend":null},"color":{"field":"s","type":"nominal","scale":{"domain":["GAL4-NHR-25","GAL4"],"range":["#D8303A","#8E8E8E"]},"legend":null}}},
{"data":{"values":[{"x":24.3,"y":4.55,"t":"GAL4-NHR-25"},{"x":24.3,"y":4.14,"t":"GAL4"}]},"mark":{"type":"text","fontSize":12.5,"align":"left"},"encoding":{"text":{"field":"t"}}},
{"data":{"values":[{"x":-35,"y":5.41,"t":"i"}]},"mark":{"type":"text","fontSize":17,"fontWeight":"bold","color":"#000"},"encoding":{"text":{"field":"t"}}}
]},
{"data":{"values":[{"s":"GAL4-NHR-25","d":"0","v":1.0,"lo":0.92,"hi":1.08},{"s":"GAL4-NHR-25","d":"20","v":1.02,"lo":0.95,"hi":1.1},{"s":"GAL4-NHR-25","d":"100","v":0.87,"lo":0.8,"hi":0.94},{"s":"GAL4-NHR-25","d":"250","v":0.78,"lo":0.72,"hi":0.85},{"s":"GAL4-NHR-25","d":"500","v":0.77,"lo":0.71,"hi":0.84},{"s":"GAL4-NHR-25","d":"1000","v":0.77,"lo":0.68,"hi":0.86},{"s":"GAL4","d":"0","v":0.97,"lo":0.86,"hi":1.08},{"s":"GAL4","d":"20","v":1.22,"lo":1.08,"hi":1.35},{"s":"GAL4","d":"100","v":0.97,"lo":0.85,"hi":1.1},{"s":"GAL4","d":"250","v":0.98,"lo":0.85,"hi":1.12},{"s":"GAL4","d":"500","v":0.92,"lo":0.78,"hi":1.06},{"s":"GAL4","d":"1000","v":0.78,"lo":0.65,"hi":0.88}]},
"encoding":{"x":{"field":"d","type":"nominal","scale":{"type":"point","domain":["0","20","100","250","500","1000"],"range":[491,672],"padding":0.47},"axis":{"orient":"bottom","offset":-54,"title":"PC 18:0/18:0 (µM)","labelAngle":0,"labelFontSize":10.5,"tickSize":0,"labelPadding":7,"titleFontSize":13,"titlePadding":9}},"y":{"field":"v","type":"quantitative","scale":{"domain":[0,6],"range":[883,725]},"axis":{"orient":"left","offset":-491,"values":[0,2,4,6],"format":"d","title":"Relative luciferase unit","titleFontSize":14.5,"titlePadding":9}}},
"layer":[{"mark":{"type":"line","strokeWidth":1.5,"color":"#000"},"encoding":{"strokeDash":{"field":"s","type":"nominal","scale":{"domain":["GAL4-NHR-25","GAL4"],"range":[[1,0],[4,2]]},"legend":null}}},
{"transform":[{"filter":"isValid(datum.hi)"}],"mark":{"type":"rule","strokeWidth":1,"color":"#333"},"encoding":{"y":{"field":"lo","type":"quantitative"},"y2":{"field":"hi"}}},{"transform":[{"filter":"isValid(datum.hi)"}],"mark":{"type":"tick","orient":"horizontal","size":7,"thickness":1,"color":"#333"},"encoding":{"y":{"field":"hi","type":"quantitative"}}},
{"mark":{"type":"point","filled":true,"size":40,"opacity":0.85},"encoding":{"shape":{"field":"s","type":"nominal","scale":{"domain":["GAL4-NHR-25","GAL4"],"range":["square","circle"]},"legend":null},"color":{"field":"s","type":"nominal","scale":{"domain":["GAL4-NHR-25","GAL4"],"range":["#D8303A","#8E8E8E"]},"legend":null}}}]},
{"encoding":{"x":{"field":"x","type":"quantitative","scale":{"domain":[0,181],"range":[491,672]},"axis":null},"y":{"field":"y","type":"quantitative","scale":{"domain":[0,6],"range":[883,725]},"axis":null}},
"layer":[
{"data":{"values":[{"x":14,"x2":169,"y":-0.857,"y2":-0.857}]},"mark":{"type":"rule","stroke":"#222","strokeWidth":1.5},"encoding":{"x2":{"field":"x2"},"y2":{"field":"y2"}}},
{"data":{"values":[{"x":168,"y":1.45,"t":"n.s."}]},"mark":{"type":"text","fontSize":9.5,"align":"center"},"encoding":{"text":{"field":"t"}}},
{"data":{"values":[{"x":10.7,"x2":25.7,"y":5.42,"s":"GAL4-NHR-25"},{"x":10.7,"x2":25.7,"y":4.93,"s":"GAL4"}]},"mark":{"type":"rule","strokeWidth":1.5,"color":"#000"},"encoding":{"x2":{"field":"x2"},"strokeDash":{"field":"s","type":"nominal","scale":{"domain":["GAL4-NHR-25","GAL4"],"range":[[1,0],[4,2]]},"legend":null}}},
{"data":{"values":[{"x":18,"y":5.42,"s":"GAL4-NHR-25"},{"x":18,"y":4.93,"s":"GAL4"}]},"mark":{"type":"point","filled":true,"size":40,"opacity":1},"encoding":{"shape":{"field":"s","type":"nominal","scale":{"domain":["GAL4-NHR-25","GAL4"],"range":["square","circle"]},"legend":null},"color":{"field":"s","type":"nominal","scale":{"domain":["GAL4-NHR-25","GAL4"],"range":["#D8303A","#8E8E8E"]},"legend":null}}},
{"data":{"values":[{"x":28,"y":5.42,"t":"GAL4-NHR-25"},{"x":28,"y":4.93,"t":"GAL4"}]},"mark":{"type":"text","fontSize":12.5,"align":"left"},"encoding":{"text":{"field":"t"}}},
{"data":{"values":[{"x":-36,"y":6.45,"t":"j"}]},"mark":{"type":"text","fontSize":17,"fontWeight":"bold","color":"#000"},"encoding":{"text":{"field":"t"}}}
]}
]}
